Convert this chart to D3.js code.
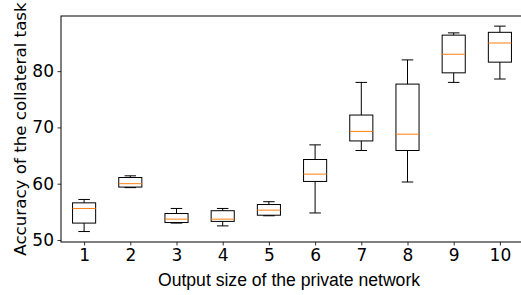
<!DOCTYPE html>
<html>
<head>
<meta charset="utf-8">
<script src="https://cdn.jsdelivr.net/npm/d3@7"></script>
<style>
html, body { margin: 0; padding: 0; background: #fff; }
svg { display: block; }
</style>
</head>
<body>
<svg id="chart" width="521" height="295"></svg>
<script>
const categories = [1, 2, 3, 4, 5, 6, 7, 8, 9, 10];
const whiskerLow  = [51.5, 59.3, 53.0, 52.5, 54.3, 54.8, 65.9, 60.3, 78.0, 78.6];
const q1          = [53.0, 59.4, 53.1, 53.3, 54.4, 60.4, 67.6, 65.9, 79.7, 81.6];
const medians     = [55.6, 60.0, 53.7, 53.7, 55.3, 61.7, 69.3, 68.8, 83.0, 85.0];
const q3          = [56.6, 61.1, 54.7, 55.2, 56.3, 64.3, 72.2, 77.7, 86.4, 86.9];
const whiskerHigh = [57.2, 61.4, 55.6, 55.6, 56.8, 66.9, 78.0, 82.0, 86.8, 88.0];
const yTicks = [50, 60, 70, 80];
const xLabel = "Output size of the private network";
const yLabel = "Accuracy of the collateral task";

(function () {
const svg = d3.select("#chart");
const mLeft = 61, mRight = 523, mTop = 16, mBottom = 242;

const x = d3.scaleLinear().domain([0.5, 10.5]).range([mLeft, mRight]);
const y = d3.scaleLinear().domain([49.64, 89.8]).range([mBottom, mTop]);

const boxW = x(1.25) - x(1);
const capW = x(1.125) - x(1);

const g = svg.append("g");

categories.forEach((c, i) => {
  const cx = x(c);
  const gg = g.append("g");
  gg.append("line").attr("x1", cx).attr("x2", cx).attr("y1", y(q3[i])).attr("y2", y(whiskerHigh[i]))
    .attr("stroke", "#000").attr("stroke-width", 1);
  gg.append("line").attr("x1", cx).attr("x2", cx).attr("y1", y(q1[i])).attr("y2", y(whiskerLow[i]))
    .attr("stroke", "#000").attr("stroke-width", 1);
  gg.append("line").attr("x1", cx - capW).attr("x2", cx + capW).attr("y1", y(whiskerHigh[i])).attr("y2", y(whiskerHigh[i]))
    .attr("stroke", "#000").attr("stroke-width", 1);
  gg.append("line").attr("x1", cx - capW).attr("x2", cx + capW).attr("y1", y(whiskerLow[i])).attr("y2", y(whiskerLow[i]))
    .attr("stroke", "#000").attr("stroke-width", 1);
  gg.append("rect").attr("x", cx - boxW).attr("width", 2 * boxW)
    .attr("y", y(q3[i])).attr("height", y(q1[i]) - y(q3[i]))
    .attr("fill", "none").attr("stroke", "#000").attr("stroke-width", 1);
  gg.append("line").attr("x1", cx - boxW).attr("x2", cx + boxW).attr("y1", y(medians[i])).attr("y2", y(medians[i]))
    .attr("stroke", "#ff7f0e").attr("stroke-width", 1);
});

const xAxis = d3.axisBottom(x).tickValues(categories).tickSize(3.5).tickPadding(3.5).tickFormat(d3.format("d"));
const yAxis = d3.axisLeft(y).tickValues(yTicks).tickSize(3.5).tickPadding(3.5).tickFormat(d3.format("d"));

const gx = svg.append("g").attr("transform", `translate(0,${mBottom})`).call(xAxis);
const gy = svg.append("g").attr("transform", `translate(${mLeft},0)`).call(yAxis);
[gx, gy].forEach(a => {
  a.select(".domain").remove();
  a.selectAll(".tick line").attr("stroke", "#000").attr("stroke-width", 0.8);
  a.selectAll(".tick text").style("font-family", "'DejaVu Sans', sans-serif").style("font-size", "17px").attr("fill", "#000");
});

svg.append("rect").attr("x", mLeft).attr("y", mTop).attr("width", mRight - mLeft).attr("height", mBottom - mTop)
  .attr("fill", "none").attr("stroke", "#000").attr("stroke-width", 1);

svg.append("text").attr("x", 289).attr("y", 286).attr("text-anchor", "middle")
  .style("font-family", "'Liberation Sans', Arial, sans-serif")
  .style("font-size", "17.6px").attr("fill", "#000").text(xLabel);
svg.append("text").attr("transform", `translate(26,${(mTop + mBottom) / 2}) rotate(-90)`).attr("text-anchor", "middle")
  .style("font-family", "'DejaVu Sans', sans-serif")
  .style("font-size", "16.7px").attr("fill", "#000").text(yLabel);
})();
</script>
</body>
</html>
